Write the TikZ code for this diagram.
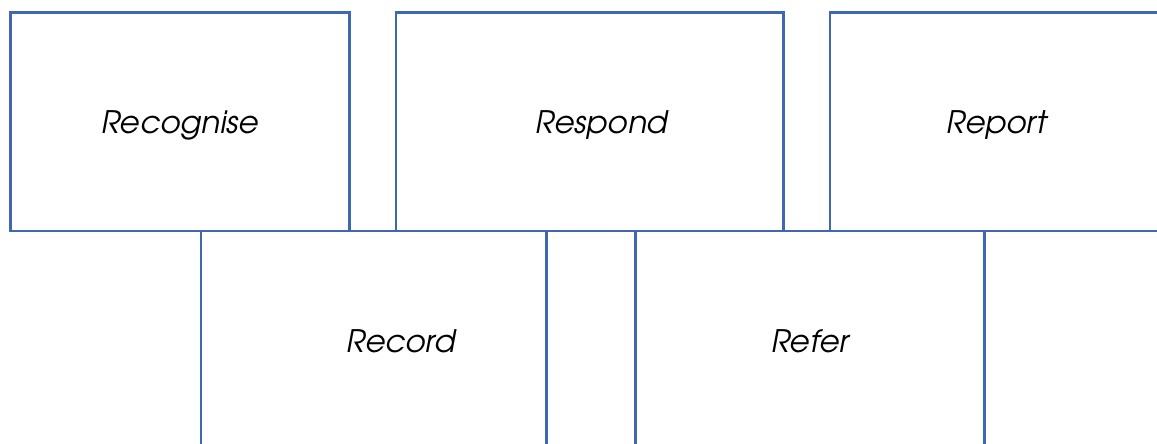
\documentclass[tikz,border=0pt]{standalone}
\usepackage{fontspec}
\setmainfont{texgyreadventor-regular.otf}[ItalicFont=texgyreadventor-italic.otf]
\definecolor{boxblue}{HTML}{4068B2}
\begin{document}
\begin{tikzpicture}[x=1pt,y=-1pt,
  box/.style={draw=boxblue, line width=2.6pt, inner sep=0pt, outer sep=0pt, rectangle},
  lbl/.style={anchor=base, inner sep=0pt, font=\fontsize{31}{36}\selectfont\itshape, text=black}]
\useasboundingbox (0,0) rectangle (1157,444);
\clip (0,0) rectangle (1157,444);
% top row
\node[box, minimum width=339pt, minimum height=218.5pt] (recognise) at (180,121.75) {};
\node[box, minimum width=387.5pt, minimum height=218.5pt] (respond) at (589.75,121.75) {};
\node[box, minimum width=334pt, minimum height=218.5pt] (report) at (997,121.75) {};
% bottom row
\node[box, minimum width=345.5pt, minimum height=229pt] (record) at (373.75,345.5) {};
\node[box, minimum width=349pt, minimum height=229pt] (refer) at (810,345.5) {};
% labels
\node[lbl] (tRecognise) at (180,133) {Recognise};
\node[lbl] (tRespond) at (602,133) {Respond};
\node[lbl] (tReport) at (997,133) {Report};
\node[lbl] (tRecord) at (401,352) {Record};
\node[lbl] (tRefer) at (810,352) {Refer};
\end{tikzpicture}
\end{document}
